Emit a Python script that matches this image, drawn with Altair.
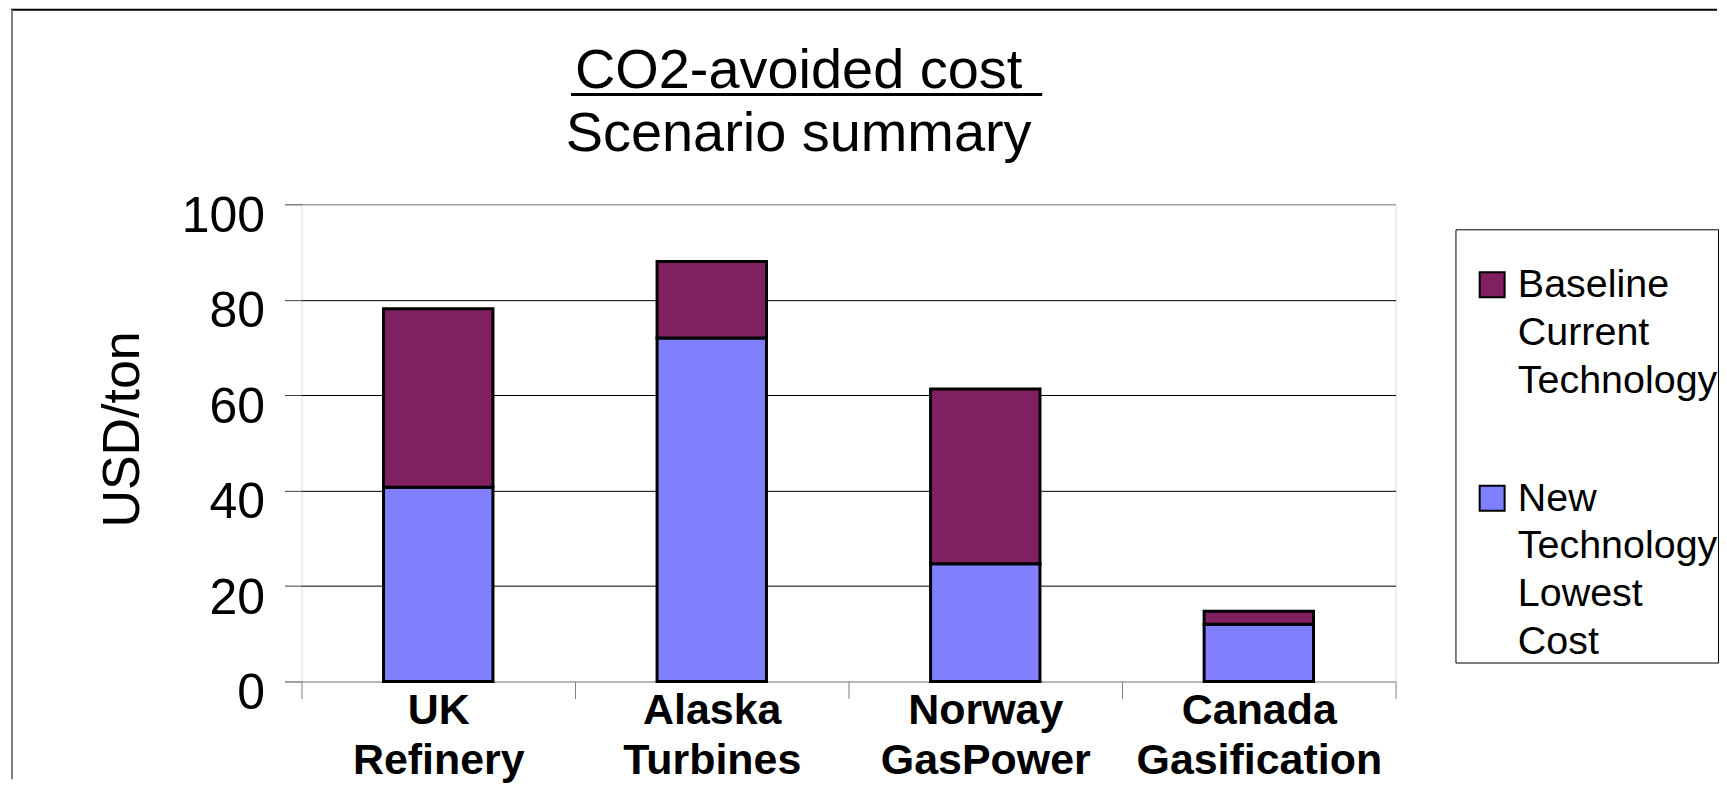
import altair as alt
import pandas as pd

FONT = "Liberation Sans"

# ---- data ----
sites = ["UK Refinery", "Alaska Turbines", "Norway GasPower", "Canada Gasification"]
new_tech = [40.7, 72.0, 24.7, 12.0]          # lower (blue) segment
baseline_extra = [37.4, 16.0, 36.6, 2.7]      # upper (purple) segment, stacked
series = ["Baseline Current Technology", "New Technology Lowest Cost"]
colors = ["#802060", "#8080FF"]
y_ticks = [0, 20, 40, 60, 80, 100]
title_lines = ["CO2-avoided cost ", "Scenario summary"]

rows = []
for i, s in enumerate(sites):
    rows.append({"site": s, "series": series[1], "value": new_tech[i], "ord": 0})
    rows.append({"site": s, "series": series[0], "value": baseline_extra[i], "ord": 1})
df = pd.DataFrame(rows)

W, H = 1096, 478

bars = alt.Chart(df).mark_bar(
    stroke="black", strokeWidth=3, width=alt.RelativeBandSize(0.4)
).encode(
    x=alt.X(
        "site:N", sort=sites,
        scale=alt.Scale(paddingInner=0, paddingOuter=0),
        axis=alt.Axis(
            title=None, labelExpr="split(datum.label, ' ')", labelAngle=0,
            labelFontSize=43, labelFontWeight="bold", labelFont=FONT, labelColor="black",
            labelBaseline="alphabetic", labelPadding=25, labelLineHeight=50,
            labelLimit=400, labelOverlap=False,
            tickBand="extent", tickSize=17, tickColor="#808080", tickWidth=1,
            domain=False, grid=False,
        ),
    ),
    y=alt.Y(
        "value:Q", stack="zero",
        scale=alt.Scale(domain=[0, 100], nice=False),
        axis=alt.Axis(
            values=y_ticks, title="USD/ton", titleFontSize=52, titleFont=FONT,
            titleFontWeight="normal", titleColor="black", titleAngle=270,
            titleX=-163, titleY=225, titleAlign="center", titleBaseline="alphabetic",
            labelFontSize=50, labelFont=FONT, labelPadding=20, labelOffset=12,
            labelColor="black", tickSize=17, tickColor="#404040", tickWidth=1,
            grid=True,
            gridColor={"condition": {"test": "datum.value >= 100 || datum.value <= 0",
                                     "value": "#808080"}, "value": "black"},
            gridWidth=1, domain=False,
        ),
    ),
    color=alt.Color(
        "series:N",
        scale=alt.Scale(domain=series, range=colors),
        legend=alt.Legend(
            title=" ", titleFontSize=6, titlePadding=11,
            orient="none", legendX=1156, legendY=25, direction="vertical",
            fillColor="white", strokeColor="black", padding=0,
            labelExpr="split(datum.label, ' ')", labelFontSize=39.5, labelFont=FONT,
            labelColor="black", labelBaseline="top", labelOffset=6, labelLimit=400,
            symbolType="M-1,0.5H1V2.5H-1Z", symbolSize=625,
            symbolStrokeColor="black", symbolStrokeWidth=2, symbolOffset=17,
            symbolOpacity=1, rowPadding=59,
        ),
    ),
    order=alt.Order("ord:Q"),
)

one = pd.DataFrame({"k": [0]})
frame_top = alt.Chart(one).mark_rule(color="black", strokeWidth=2).encode(
    x=alt.value(-291), x2=alt.value(1418), y=alt.value(-195)
)
frame_left = alt.Chart(one).mark_rule(color="#808080", strokeWidth=2).encode(
    x=alt.value(-290), y=alt.value(-195), y2=alt.value(576)
)
underline = alt.Chart(one).mark_rule(color="black", strokeWidth=3).encode(
    x=alt.value(270), x2=alt.value(742), y=alt.value(-110)
)

chart = alt.layer(bars, frame_top, frame_left, underline).properties(
    width=W, height=H,
    padding={"left": 2, "top": 0, "right": 0, "bottom": 0},
    title=alt.Title(
        title_lines, fontSize=56, font=FONT, fontWeight="normal", color="black",
        lineHeight=64, anchor="middle", frame="group", dx=-50, offset=-211,
        baseline="bottom",
    ),
).configure_view(
    fill="#C0C0C0", stroke="#808080", strokeWidth=3
).configure(
    background="white", font=FONT,
    style={"guide-label": {"lineHeight": 48}},
)

chart.save("out.html", embed_options={"renderer": "svg", "actions": False})
